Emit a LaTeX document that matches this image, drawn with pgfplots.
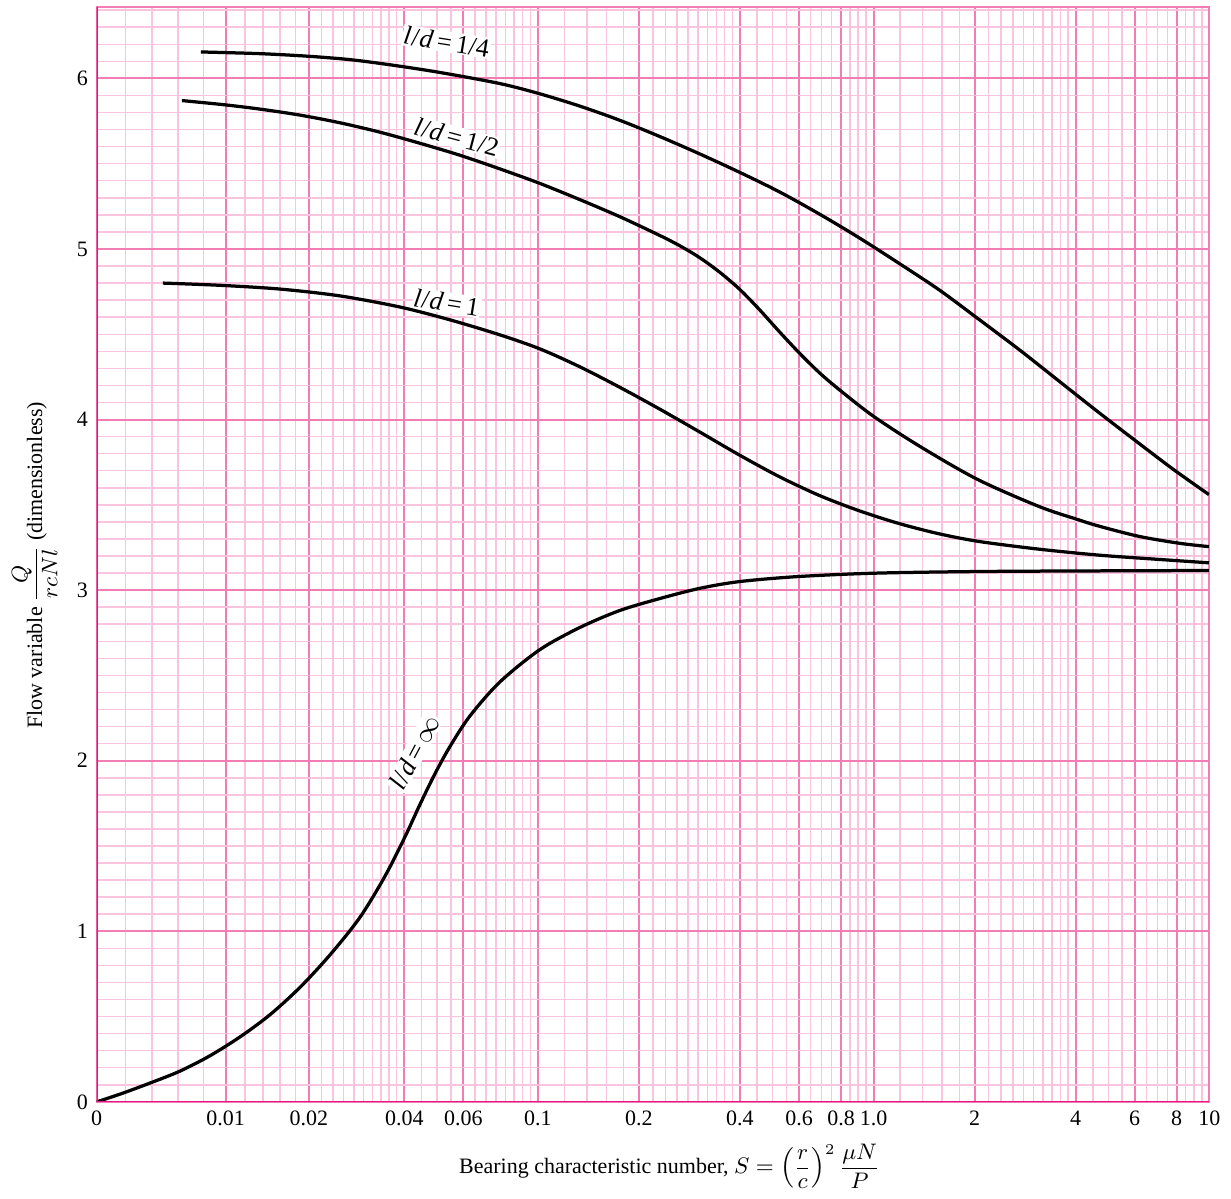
\documentclass[border=0pt]{standalone}
\usepackage{amsmath}
\usepackage{pgfplots}
\pgfplotsset{compat=1.18}
\usepackage{fontspec}
\setmainfont{Liberation Serif}
\definecolor{axisdark}{RGB}{232,20,130}
\definecolor{gridmajor}{RGB}{242,125,180}
\definecolor{gridminor}{RGB}{250,196,222}
\newcommand{\ld}[1]{\textit{l}\kern0.3pt/\kern0.3pt\textit{d}\,=\,#1}
\begin{document}
\begin{tikzpicture}
\begin{axis}[
  scale only axis,
  width=445.4pt, height=438.4pt,
  xmin=96.7, xmax=1210.3, ymin=0, ymax=6.42,
  font=\fontsize{8.8}{10.5}\selectfont,
  /pgf/number format/assume math mode=true,
  xtick={96.7,225.7,309,404.6,463.8,538.3,639.4,740.5,799.7,841.7,874.3,975.4,1076.5,1135.7,1177.7,1210.3},
  xticklabels={0,0.01,0.02,0.04,0.06,0.1,0.2,0.4,0.6,0.8,1.0,2,4,6,8,10},
  minor xtick={125.7,152.3,178.3,203.8,245,263,280,295.5,321.5,333,344,354.5,364,373,381.5,389.5,397,421.8,437.2,451.1,475.4,486.2,496.3,505.7,514.6,522.9,530.8,564.9,587.4,606.9,624.1,653.3,666.0,677.7,688.6,698.6,708.0,716.9,725.2,733.1,757.8,773.2,787.1,811.4,822.3,832.3,850.6,858.9,866.8,900.9,923.4,942.9,960.1,989.3,1002.0,1013.7,1024.5,1034.6,1044.0,1052.9,1061.2,1069.1,1093.8,1109.2,1123.1,1147.4,1158.3,1168.3,1186.6,1194.9,1202.8},
  ytick={0,1,2,3,4,5,6},
  minor ytick={0.1,0.2,0.3,0.4,0.5,0.6,0.7,0.8,0.9,1.1,1.2,1.3,1.4,1.5,1.6,1.7,1.8,1.9,2.1,2.2,2.3,2.4,2.5,2.6,2.7,2.8,2.9,3.1,3.2,3.3,3.4,3.5,3.6,3.7,3.8,3.9,4.1,4.2,4.3,4.4,4.5,4.6,4.7,4.8,4.9,5.1,5.2,5.3,5.4,5.5,5.6,5.7,5.8,5.9,6.1,6.2,6.3,6.4},
  major tick length=0pt, minor tick length=0pt,
  grid=both,
  major grid style={draw=gridmajor, line width=0.8pt},
  minor grid style={draw=gridminor, line width=0.6pt},
  axis line style={draw=gridmajor, line width=0.8pt},
  xlabel={Bearing characteristic number, $S = \left(\dfrac{r}{c}\right)^{2}\dfrac{\mu N}{P}$},
  ylabel={Flow variable $\dfrac{Q}{rcNl}$ (dimensionless)},
  xlabel style={at={(axis description cs:0.515,-0.0589)}, anchor=center},
  ylabel style={at={(axis description cs:-0.0557,0.49)}, anchor=center},
]
% curve labels (drawn first, under the curves)
\node[fill=white, inner sep=0.5pt, rotate=-9, font=\fontsize{10.5}{12}\selectfont] at (axis cs:447,6.215) {\ld{1/4}};
\node[fill=white, inner sep=0.5pt, rotate=-15, font=\fontsize{10.5}{12}\selectfont] at (axis cs:457,5.655) {\ld{1/2}};
\node[fill=white, inner sep=0.5pt, rotate=-9, font=\fontsize{10.5}{12}\selectfont] at (axis cs:447,4.685) {\ld{1}};
\node[fill=white, inner sep=0.5pt, rotate=62, font=\fontsize{10.5}{12}\selectfont] at (axis cs:415,2.05) {\ld{$\infty$}};
% l/d = infinity
\addplot[black, line width=1.3pt, smooth] coordinates {
(96.7,0) (120,0.045) (150,0.11) (180,0.18) (210,0.27) (240,0.38) (270,0.51) (300,0.67) (330,0.86) (360,1.08) (385,1.32) (405,1.55) (420,1.74) (435,1.92) (450,2.08) (470,2.26) (500,2.46) (540,2.65) (580,2.78) (620,2.88) (660,2.95) (700,3.01) (740,3.05) (800,3.08) (880,3.10) (1000,3.11) (1210,3.115)};
% l/d = 1
\addplot[black, line width=1.3pt, smooth] coordinates {
(163,4.80) (220,4.787) (280,4.765) (340,4.725) (400,4.66) (450,4.585) (500,4.497) (540,4.415) (580,4.31) (620,4.19) (660,4.062) (700,3.928) (740,3.792) (780,3.665) (820,3.555) (860,3.465) (900,3.39) (940,3.33) (980,3.285) (1040,3.24) (1100,3.205) (1160,3.18) (1210,3.16)};
% l/d = 1/2
\addplot[black, line width=1.3pt, smooth] coordinates {
(182,5.87) (225,5.845) (260,5.82) (300,5.785) (340,5.74) (380,5.685) (420,5.62) (460,5.55) (500,5.47) (540,5.385) (580,5.29) (620,5.19) (660,5.08) (680,5.02) (700,4.95) (720,4.865) (740,4.765) (760,4.645) (780,4.515) (800,4.39) (820,4.275) (840,4.175) (874,4.02) (920,3.845) (978,3.65) (1040,3.49) (1078,3.415) (1100,3.375) (1140,3.315) (1180,3.275) (1210,3.255)};
% l/d = 1/4
\addplot[black, line width=1.3pt, smooth] coordinates {
(201,6.155) (260,6.145) (308,6.13) (350,6.11) (390,6.08) (440,6.035) (500,5.97) (540,5.91) (580,5.838) (620,5.755) (660,5.66) (700,5.558) (740,5.45) (780,5.335) (820,5.205) (860,5.065) (900,4.915) (940,4.76) (978,4.595) (1020,4.41) (1060,4.225) (1100,4.04) (1140,3.86) (1175,3.705) (1210,3.56)};
\draw[axisdark, line width=1pt] (rel axis cs:0,1) -- (rel axis cs:0,0) -- (rel axis cs:1,0);
\end{axis}
\pgfresetboundingbox
\path[use as bounding box] ([shift={(-38.7pt,-38.5pt)}]current axis.south west) rectangle ([shift={(8.7pt,2.7pt)}]current axis.north east);
\end{tikzpicture}
\end{document}
